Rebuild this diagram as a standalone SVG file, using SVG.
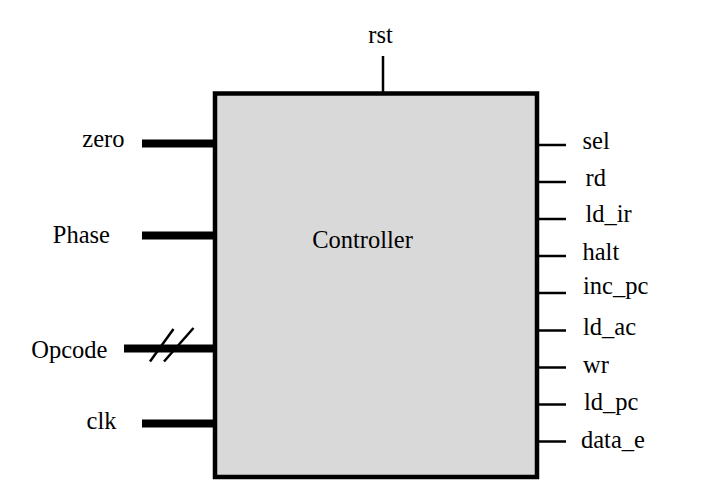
<svg xmlns="http://www.w3.org/2000/svg" width="702" height="493" viewBox="0 0 702 493">
  <style>
    text { font-family: "Liberation Serif", "Times New Roman", Times, Tinos, "Noto Serif", "DejaVu Serif", FreeSerif, serif; font-size: 24.5px; fill: #000; }
    .bus { stroke: #000; stroke-width: 8; fill: none; }
    .out { stroke: #000; stroke-width: 2.5; fill: none; }
    .box { fill: #d9d9d9; stroke: #000; stroke-width: 4.5; }
  </style>
  <rect width="702" height="493" fill="#fff"/>

  <!-- signal wires -->
  <g id="connectors">
    <line class="out" x1="383" y1="56" x2="383" y2="93" stroke-width="3"/>
    <line class="bus" x1="142" y1="143.5" x2="215" y2="143.5"/>
    <line class="bus" x1="142" y1="235.5" x2="215" y2="235.5"/>
    <line class="bus" x1="124" y1="348.5" x2="215" y2="348.5"/>
    <line class="out" x1="150" y1="361.5" x2="173.5" y2="329"/>
    <line class="out" x1="164" y1="361.5" x2="193.5" y2="328"/>
    <line class="bus" x1="142" y1="423.5" x2="215" y2="423.5"/>
    <line class="out" x1="537" y1="145" x2="566" y2="145"/>
    <line class="out" x1="537" y1="182" x2="566" y2="182"/>
    <line class="out" x1="537" y1="219" x2="566" y2="219"/>
    <line class="out" x1="537" y1="256" x2="566" y2="256"/>
    <line class="out" x1="537" y1="293" x2="566" y2="293"/>
    <line class="out" x1="537" y1="330.5" x2="566" y2="330.5"/>
    <line class="out" x1="537" y1="367.5" x2="566" y2="367.5"/>
    <line class="out" x1="537" y1="404.5" x2="566" y2="404.5"/>
    <line class="out" x1="537" y1="441.5" x2="566" y2="441.5"/>
  </g>

  <!-- controller block -->
  <g id="controller">
    <rect class="box" x="215" y="93.5" width="322" height="383.5"/>
    <text x="362.5" y="247.5" text-anchor="middle">Controller</text>
  </g>

  <!-- port labels -->
  <g id="port-rst"><text x="380.5" y="42.5" text-anchor="middle">rst</text></g>
  <g id="port-zero"><text x="124.5" y="146.5" text-anchor="end">zero</text></g>
  <g id="port-phase"><text x="110" y="242.5" text-anchor="end">Phase</text></g>
  <g id="port-opcode"><text x="107.5" y="357.5" text-anchor="end">Opcode</text></g>
  <g id="port-clk"><text x="116.5" y="428.5" text-anchor="end">clk</text></g>

  <g id="port-sel"><text x="582.5" y="148.5">sel</text></g>
  <g id="port-rd"><text x="585.5" y="186">rd</text></g>
  <g id="port-ld_ir"><text x="585.5" y="222">ld_ir</text></g>
  <g id="port-halt"><text x="582.5" y="259.5">halt</text></g>
  <g id="port-inc_pc"><text x="583" y="294">inc_pc</text></g>
  <g id="port-ld_ac"><text x="583" y="334.5">ld_ac</text></g>
  <g id="port-wr"><text x="583" y="372.5">wr</text></g>
  <g id="port-ld_pc"><text x="584" y="409.5">ld_pc</text></g>
  <g id="port-data_e"><text x="581" y="447.5">data_e</text></g>
</svg>
